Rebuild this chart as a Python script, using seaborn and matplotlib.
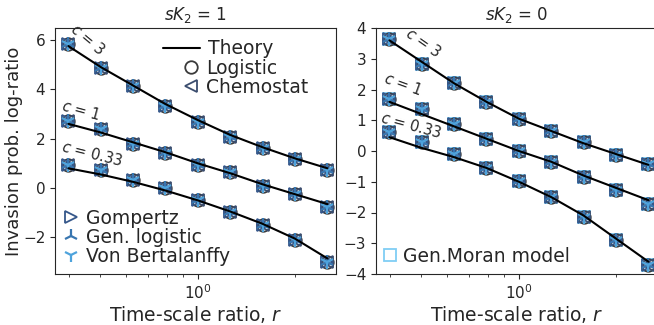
import numpy as np
import pandas as pd
import matplotlib
matplotlib.use("Agg")
import matplotlib.pyplot as plt
import matplotlib.ticker as mticker
import seaborn as sns
from matplotlib.lines import Line2D

sns.set_style("ticks")
plt.rcParams['font.family'] = ['DejaVu Sans']

# ---- data ----
r = [0.398, 0.501, 0.631, 0.794, 1.0, 1.259, 1.585, 1.995, 2.512]
c_labels = ["$c$ = 3", "$c$ = 1", "$c$ = 0.33"]

# sK2 = 1 panel
theory_sk1_c3 = [5.75, 4.9, 4.15, 3.4, 2.75, 2.15, 1.65, 1.2, 0.8]
theory_sk1_c1 = [2.6, 2.25, 1.85, 1.45, 1.0, 0.6, 0.15, -0.25, -0.65]
theory_sk1_c033 = [0.8, 0.55, 0.25, -0.1, -0.5, -0.95, -1.45, -2.05, -2.85]
sim_sk1_c3 = [5.85, 4.88, 4.13, 3.32, 2.66, 2.08, 1.62, 1.17, 0.75]
sim_sk1_c1 = [2.7, 2.4, 1.8, 1.4, 0.95, 0.65, 0.1, -0.25, -0.75]
sim_sk1_c033 = [0.93, 0.73, 0.32, -0.01, -0.49, -0.96, -1.5, -2.1, -2.98]

# sK2 = 0 panel
theory_sk0_c3 = [3.6, 2.9, 2.2, 1.6, 1.05, 0.65, 0.25, -0.1, -0.45]
theory_sk0_c1 = [1.6, 1.2, 0.8, 0.4, 0.0, -0.35, -0.8, -1.2, -1.6]
theory_sk0_c033 = [0.45, 0.1, -0.2, -0.55, -1.0, -1.5, -2.1, -2.85, -3.6]
sim_sk0_c3 = [3.65, 2.82, 2.2, 1.6, 1.04, 0.66, 0.28, -0.13, -0.42]
sim_sk0_c1 = [1.68, 1.36, 0.87, 0.39, 0.01, -0.37, -0.85, -1.28, -1.72]
sim_sk0_c033 = [0.61, 0.28, -0.1, -0.55, -0.96, -1.5, -2.15, -2.9, -3.71]

models = ["Logistic", "Chemostat", "Gompertz", "Gen. logistic", "Von Bertalanffy", "Gen.Moran model"]
model_markers = ["o", "<", ">", "2", "1", "s"]
model_colors = ["#3a3a3a", "#3b4d6e", "#35578a", "#3876b0", "#4ea3dc", "#80cef5"]

titles = ["$sK_2$ = 1", "$sK_2$ = 0"]

panels = [
    dict(theory=[theory_sk1_c3, theory_sk1_c1, theory_sk1_c033],
         sim=[sim_sk1_c3, sim_sk1_c1, sim_sk1_c033],
         models=[0, 1, 2, 3, 4],
         label_pos=[(0.457, 6.0, -40), (0.435, 3.16, -15), (0.471, 1.38, -14)],
         ylim=(-3.48, 6.48), yticks=[-2, 0, 2, 4, 6]),
    dict(theory=[theory_sk0_c3, theory_sk0_c1, theory_sk0_c033],
         sim=[sim_sk0_c3, sim_sk0_c1, sim_sk0_c033],
         models=[5, 0, 1, 2, 3, 4],
         label_pos=[(0.506, 3.53, -35), (0.438, 2.17, -20), (0.464, 0.84, -15)],
         ylim=(-4, 4), yticks=[-4, -3, -2, -1, 0, 1, 2, 3, 4]),
]

W, H = 654, 325
fig = plt.figure(figsize=(W / 100, H / 100), dpi=100)
ax1 = fig.add_axes([55 / W, (H - 274) / H, 281 / W, 246 / H])
ax2 = fig.add_axes([376 / W, (H - 274) / H, 281 / W, 246 / H])
axes = [ax1, ax2]


def style(i):
    mk = model_markers[i]
    col = model_colors[i]
    if mk in ("1", "2"):
        return dict(marker=mk, markersize=10, markeredgewidth=1.6, color=col,
                    markeredgecolor=col)
    if mk == "s":
        return dict(marker=mk, markersize=8, markeredgewidth=1.3, color=col,
                    markerfacecolor="none", markeredgecolor=col)
    return dict(marker=mk, markersize=9, markeredgewidth=1.3, color=col,
                markerfacecolor="none", markeredgecolor=col)


for ax, p, title in zip(axes, panels, titles):
    for sim in p["sim"]:
        df = pd.DataFrame({"r": r, "v": sim})
        for i in p["models"]:
            sns.lineplot(data=df, x="r", y="v", ax=ax, linestyle="", zorder=3, **style(i))
    for th in p["theory"]:
        df = pd.DataFrame({"r": r, "v": th})
        sns.lineplot(data=df, x="r", y="v", ax=ax, color="black", linewidth=1.5, zorder=4)
    for lab, (x, y, rot) in zip(c_labels, p["label_pos"]):
        ax.text(x, y, lab, rotation=rot, fontsize=10.5, ha="center", va="center",
                rotation_mode="anchor")
    ax.set_xscale("log")
    ax.set_xlim(0.362, 2.67)
    ax.xaxis.set_minor_formatter(mticker.NullFormatter())
    ax.set_ylim(*p["ylim"])
    ax.set_yticks(p["yticks"])
    ax.set_title(title, fontsize=12)
    ax.set_xlabel("Time-scale ratio, $r$", fontsize=13.5, labelpad=1)
    ax.set_ylabel("")
    ax.tick_params(labelsize=11)

ax1.set_ylabel("Invasion prob. log-ratio", fontsize=13, labelpad=0)


def mh(i):
    return Line2D([], [], linestyle="", **style(i))


leg_t = ax1.legend([Line2D([], [], color="black", linewidth=1.5)], ["Theory"],
                   loc="upper left", bbox_to_anchor=(0.384, 0.955), frameon=False,
                   fontsize=13.5, handlelength=2.0, handletextpad=0.4,
                   borderpad=0, borderaxespad=0)
ax1.add_artist(leg_t)
leg1 = ax1.legend([mh(0), mh(1)], models[0:2], loc="upper left",
                  bbox_to_anchor=(0.456, 0.875), frameon=False, fontsize=13.5,
                  labelspacing=0.0, handlelength=0.8, handletextpad=0.4,
                  borderpad=0, borderaxespad=0)
ax1.add_artist(leg1)
ax1.legend([mh(2), mh(3), mh(4)], models[2:5], loc="lower left", frameon=False,
           fontsize=13.5, labelspacing=0.0, handlelength=0.8, handletextpad=0.4,
           borderaxespad=0.05)
ax2.legend([mh(5)], [models[5]], loc="lower left", frameon=False, fontsize=13.5,
           handlelength=0.6, handletextpad=0.4, borderaxespad=0.05)

fig.savefig("out.png", dpi=100)
